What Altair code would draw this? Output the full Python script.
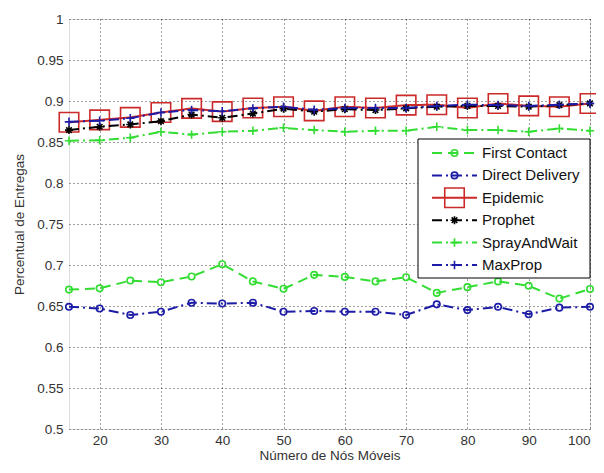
import altair as alt
import pandas as pd

# ---- data ----
x_vals = [15, 20, 25, 30, 35, 40, 45, 50, 55, 60, 65, 70, 75, 80, 85, 90, 95, 100]

series_names = ["First Contact", "Direct Delivery", "Epidemic", "Prophet", "SprayAndWait", "MaxProp"]

first_contact = [0.670, 0.6715, 0.681, 0.679, 0.686, 0.701, 0.680, 0.671, 0.688,
                 0.6855, 0.680, 0.685, 0.666, 0.673, 0.680, 0.6746, 0.659, 0.6707]
direct_delivery = [0.649, 0.647, 0.639, 0.643, 0.654, 0.653, 0.654, 0.643, 0.644,
                   0.643, 0.643, 0.639, 0.652, 0.645, 0.649, 0.640, 0.648, 0.649]
epidemic = [0.874, 0.877, 0.880, 0.886, 0.891, 0.887, 0.8915, 0.893, 0.888,
            0.893, 0.8915, 0.895, 0.8955, 0.8915, 0.897, 0.894, 0.893, 0.897]
prophet = [0.8645, 0.8686, 0.8714, 0.8754, 0.8835, 0.8795, 0.8847, 0.8907, 0.887,
           0.890, 0.889, 0.891, 0.893, 0.894, 0.894, 0.893, 0.895, 0.897]
spray_and_wait = [0.8516, 0.852, 0.8552, 0.8625, 0.859, 0.8625, 0.8637, 0.8673, 0.8645,
                  0.8625, 0.8637, 0.8637, 0.8686, 0.8645, 0.8645, 0.8625, 0.8665, 0.8637]
max_prop = [0.8746, 0.876, 0.879, 0.886, 0.889, 0.8875, 0.891, 0.893, 0.8893,
            0.8915, 0.8915, 0.8915, 0.894, 0.8955, 0.895, 0.894, 0.8955, 0.897]

x_ticks = [20, 30, 40, 50, 60, 70, 80, 90, 100]
y_ticks = [0.5, 0.55, 0.6, 0.65, 0.7, 0.75, 0.8, 0.85, 0.9, 0.95, 1.0]

x_title = "Número de Nós Móveis"
y_title = "Percentual de Entregas"

# ---- styles ----
colors = ["#33dd33", "#1c1ca6", "#cc2a2a", "#000000", "#33dd33", "#1c1ca6"]
dashes = [[10, 6], [10, 4, 2, 4], [1, 0], [10, 4, 2, 4], [10, 4, 2, 4], [10, 4, 2, 4]]
plus_path = "M-1,0L1,0M0,-1L0,1"
star_path = "M-1,0L1,0M0,-1L0,1M-0.7,-0.7L0.7,0.7M-0.7,0.7L0.7,-0.7"
shapes = ["circle", "circle", "square", star_path, plus_path, plus_path]
sizes = [42, 42, 380, 64, 72, 72]

values = [first_contact, direct_delivery, epidemic, prophet, spray_and_wait, max_prop]
rows = []
for name, vals in zip(series_names, values):
    for xv, yv in zip(x_vals, vals):
        rows.append({"x": xv, "y": yv, "series": name})
df = pd.DataFrame(rows)

W, H = 521, 410
FONT = "Liberation Sans"
FS = 13.5
TXT = "#333333"

color_enc = alt.Color("series:N", scale=alt.Scale(domain=series_names, range=colors), legend=None)
dash_enc = alt.StrokeDash("series:N", scale=alt.Scale(domain=series_names, range=dashes), legend=None)
shape_enc = alt.Shape("series:N", scale=alt.Scale(domain=series_names, range=shapes), legend=None)

axis_common = dict(grid=True, ticks=False, domain=False, gridColor="#000", gridDash=[1, 3],
                   gridOpacity=0.75, gridWidth=1, labelFont=FONT, labelFontSize=FS, labelColor=TXT,
                   titleFont=FONT, titleFontSize=FS, titleFontWeight="normal", titleColor=TXT)

x_enc = alt.X("x:Q", scale=alt.Scale(domain=[15, 100], nice=False, zero=False),
              axis=alt.Axis(values=x_ticks, title=x_title, labelPadding=4, titlePadding=2, **axis_common))
y_enc = alt.Y("y:Q", scale=alt.Scale(domain=[0.5, 1.0], nice=False, zero=False),
              axis=alt.Axis(values=y_ticks, title=y_title, format="~g", labelPadding=6, titlePadding=10,
                            **axis_common))

base = alt.Chart(df)
layers = []
for i, name in enumerate(series_names):
    sub = base.transform_filter(alt.datum.series == name)
    layers.append(sub.mark_line(strokeWidth=2).encode(x=x_enc, y=y_enc, color=color_enc, strokeDash=dash_enc))
    layers.append(sub.mark_point(filled=False, strokeWidth=1.6, opacity=1, size=sizes[i]).encode(
        x=x_enc, y=y_enc, color=color_enc, shape=shape_enc))
main = alt.layer(*layers)

# ---- legend (manual, MATLAB style) ----
leg_df = pd.DataFrame({"series": series_names})
leg_y = alt.Y("series:N", scale=alt.Scale(type="point", domain=series_names, range=[134, 246], padding=0),
              axis=None)
box = alt.Chart(pd.DataFrame({"a": [0]})).mark_rect(fill="white", stroke="black", strokeWidth=1).encode(
    x=alt.value(349), x2=alt.value(521), y=alt.value(120), y2=alt.value(259))
leg_lines = alt.Chart(leg_df).mark_rule(strokeWidth=2).encode(
    x=alt.value(363), x2=alt.value(408), y=leg_y, color=color_enc, strokeDash=dash_enc)
leg_pts = []
for i, name in enumerate(series_names):
    leg_pts.append(alt.Chart(leg_df).transform_filter(alt.datum.series == name).mark_point(
        filled=False, strokeWidth=1.6, opacity=1, size=sizes[i]).encode(
        x=alt.value(385.5), y=leg_y, color=color_enc, shape=shape_enc))
leg_text = alt.Chart(leg_df).mark_text(align="left", baseline="middle", font=FONT, fontSize=15,
                                       color="#111").encode(
    x=alt.value(413), y=leg_y, text="series:N")
legend = alt.layer(box, leg_lines, *leg_pts, leg_text)

chart = alt.layer(main, legend).resolve_scale(y="independent").properties(
    width=W, height=H,
    padding={"left": 61, "top": 11, "right": 6, "bottom": 37},
    autosize=alt.AutoSizeParams(type="none"),
).configure_view(stroke="black", strokeWidth=1.2).configure(background="white")

chart.save("out.html", embed_options={"renderer": "svg", "actions": False})
